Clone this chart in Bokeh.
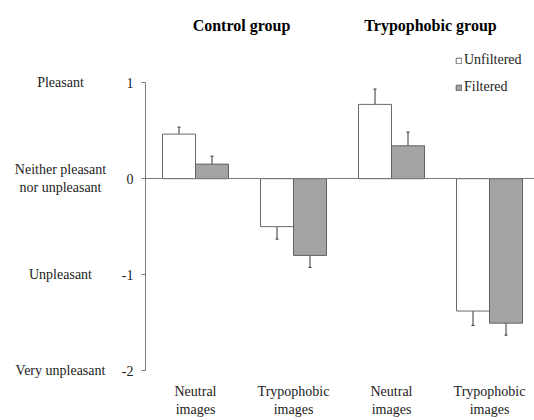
from bokeh.plotting import figure
from bokeh.models import (ColumnDataSource, Whisker, TeeHead, Legend, LinearAxis,
                          LegendItem, FixedTicker, Range1d)
from bokeh.core.properties import value
from bokeh.embed import file_html
from bokeh.resources import INLINE

# ---- data ----
categories = ["Neutral\nimages", "Trypophobic\nimages", "Neutral\nimages", "Trypophobic\nimages"]
groups = ["Control group", "Trypophobic group"]
unfiltered = [0.465, -0.50, 0.775, -1.38]
unfiltered_err = [0.073, 0.13, 0.16, 0.15]
filtered = [0.152, -0.80, 0.343, -1.506]
filtered_err = [0.083, 0.125, 0.143, 0.125]
y_ticks = [1, 0, -1, -2]
y_tick_labels = ["1", "0", "-1", "-2"]
y_scale_labels = ["Pleasant", "Neither pleasant\nnor unpleasant", "Unpleasant", "Very unpleasant"]

SERIF = "Liberation Serif"
TXT = "#1c1c1c"
AX = "#7a7a7a"

PX_X = 98.0   # pixels per x unit
PX_Y = 95.9   # pixels per y unit
pos = [i + 1 for i in range(len(categories))]
off = 16.5 / PX_X
bw = 33.0 / PX_X
x0 = 1 - 50.0 / PX_X          # where the value axis sits
x_start = x0 - 145.0 / PX_X   # canvas left edge
x_end = x0 + 389.0 / PX_X     # canvas right edge
y_min, y_max = min(y_ticks), max(y_ticks)

src_u = ColumnDataSource(dict(x=[p_ - off for p_ in pos], top=unfiltered,
                              up=[v + e for v, e in zip(unfiltered, unfiltered_err)],
                              lo=[v - e for v, e in zip(unfiltered, unfiltered_err)]))
src_f = ColumnDataSource(dict(x=[p_ + off for p_ in pos], top=filtered,
                              up=[v + e for v, e in zip(filtered, filtered_err)],
                              lo=[v - e for v, e in zip(filtered, filtered_err)]))

p = figure(width=534, height=420, output_backend="svg", toolbar_location=None,
           x_range=Range1d(x_start, x_end),
           y_range=Range1d(y_min - 50.0 / PX_Y, y_min + 370.0 / PX_Y),
           min_border_left=0, min_border_right=0, min_border_top=0, min_border_bottom=0)
p.outline_line_color = None
p.grid.grid_line_color = None
p.background_fill_color = "white"
p.border_fill_color = "white"

r_u = p.vbar(x="x", top="top", bottom=0, width=bw, source=src_u,
             fill_color="white", line_color="#6a6a6a", line_width=1)
r_f = p.vbar(x="x", top="top", bottom=0, width=bw, source=src_f,
             fill_color="#a4a4a4", line_color="#626262", line_width=1)

for s in (src_u, src_f):
    w = Whisker(base="x", upper="up", lower="lo", source=s, line_color="#333333", line_width=1,
                upper_head=TeeHead(size=3, line_color="#333333", line_width=1),
                lower_head=TeeHead(size=3, line_color="#333333", line_width=1))
    p.add_layout(w)

# value axis, fixed at x0
ya = p.yaxis[0]
ya.fixed_location = x0
ya.ticker = FixedTicker(ticks=y_ticks)
ya.bounds = (y_min, y_max)
ya.major_label_overrides = {t: l for t, l in zip(y_ticks, y_tick_labels)}
ya.minor_tick_line_color = None
ya.major_tick_in = 0
ya.major_tick_out = 4
ya.axis_line_color = AX
ya.major_tick_line_color = AX
ya.major_label_standoff = 8
ya.major_label_text_font = SERIF
ya.major_label_text_font_size = "14px"
ya.major_label_text_color = TXT

# zero line (an axis fixed at y = 0)
zero_axis = LinearAxis(fixed_location=0, bounds=(x0, x_end), axis_line_color=AX,
                       major_tick_line_color=None, minor_tick_line_color=None,
                       major_label_text_font_size="0px", ticker=FixedTicker(ticks=[]))
p.add_layout(zero_axis, "below")

# category axis, labels hang below y = -2
xa = p.xaxis[0]
xa.fixed_location = y_min
xa.ticker = FixedTicker(ticks=pos)
xa.major_label_overrides = {t: l for t, l in zip(pos, categories)}
xa.axis_line_color = None
xa.major_tick_line_color = None
xa.minor_tick_line_color = None
xa.major_tick_out = 0
xa.major_label_standoff = 13
xa.major_label_text_font = SERIF
xa.major_label_text_font_size = "14px"
xa.major_label_text_color = TXT

# scale descriptions
lab_x = x0 - 85.0 / PX_X
p.text(x=[lab_x] * len(y_ticks), y=y_ticks, text=y_scale_labels,
       text_font=value(SERIF), text_font_size="14px", text_color=TXT,
       text_align="center", text_baseline="middle", text_line_height=1.2)

# group titles
title_x = [1.469, 3.398]
p.text(x=title_x, y=[1.6, 1.6], text=groups, text_font=value(SERIF), text_font_style="bold",
       text_font_size="16px", text_align="center", text_baseline="middle", text_color="#000000")

legend = Legend(items=[LegendItem(label="Unfiltered", renderers=[r_u]),
                       LegendItem(label="Filtered", renderers=[r_f])],
                location=(455, 323), orientation="vertical",
                glyph_width=7, glyph_height=7, label_standoff=2, spacing=7,
                padding=0, margin=0, border_line_color=None, background_fill_alpha=0,
                label_text_font=SERIF, label_text_font_size="14px", label_text_color=TXT,
                label_height=20)
p.add_layout(legend)

open("out.html", "w").write(file_html(p, INLINE))
